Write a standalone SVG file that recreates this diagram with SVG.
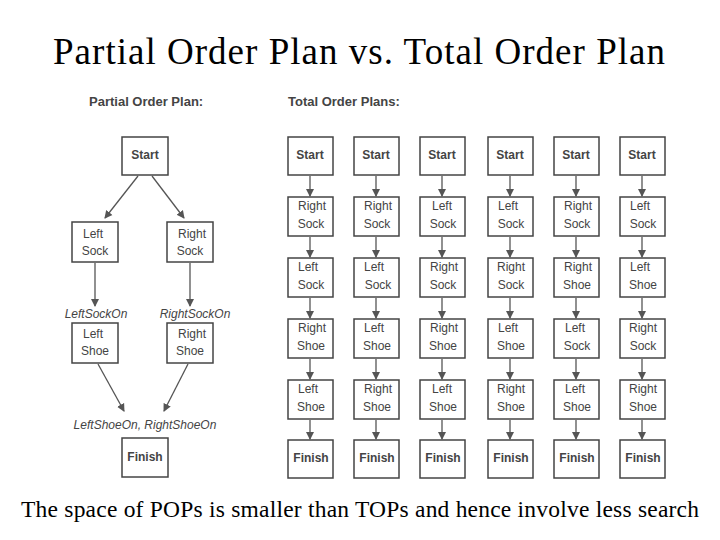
<svg xmlns="http://www.w3.org/2000/svg" width="720" height="540" viewBox="0 0 720 540">
<defs><marker id="a" markerWidth="8" markerHeight="10" refX="7" refY="5" orient="auto" markerUnits="userSpaceOnUse"><path d="M0,1 L8,5 L0,9 Z" fill="#555"/></marker></defs>
<style>
.b{fill:#fff;stroke:#444;stroke-width:1.5}
.t{font-family:"Liberation Sans",Arial,sans-serif;font-size:12px;fill:#444;text-anchor:middle}
.bt{font-weight:bold}
.i{font-style:italic}
.c line{stroke:#555;stroke-width:1.3;marker-end:url(#a)}
</style>
<rect width="720" height="540" fill="#fff"/>
<text x="359" y="64" textLength="612" lengthAdjust="spacing" style="font-family:'Liberation Serif','Times New Roman',serif;font-size:37px;text-anchor:middle;fill:#000">Partial Order Plan vs. Total Order Plan</text>
<text x="360" y="517" textLength="678" lengthAdjust="spacing" style="font-family:'Liberation Serif','Times New Roman',serif;font-size:23.5px;text-anchor:middle;fill:#000">The space of POPs is smaller than TOPs and hence involve less search</text>
<text x="89" y="106" class="t bt" style="text-anchor:start;font-size:13px">Partial Order Plan:</text>
<text x="288" y="106" class="t bt" style="text-anchor:start;font-size:13px">Total Order Plans:</text>
<g class="c">
<line x1="138" y1="176" x2="105" y2="218"/><line x1="152" y1="176" x2="184" y2="218"/>
<line x1="95" y1="263" x2="95" y2="306"/><line x1="190" y1="263" x2="190" y2="306"/>
<line x1="98" y1="364" x2="124" y2="411"/><line x1="188" y1="364" x2="164" y2="411"/>
</g>
<g id="p-start"><rect class="b" x="122" y="137" width="46" height="38"/><text class="t bt" x="145" y="159">Start</text></g>
<g id="p-lsock"><rect class="b" x="72" y="222" width="46" height="40"/><text class="t" x="93" y="238">Left</text><text class="t" x="95" y="255">Sock</text></g>
<g id="p-rsock"><rect class="b" x="167" y="222" width="46" height="40"/><text class="t" x="192" y="238">Right</text><text class="t" x="190" y="255">Sock</text></g>
<text class="t i" x="96" y="318">LeftSockOn</text><text class="t i" x="195" y="318">RightSockOn</text>
<g id="p-lshoe"><rect class="b" x="72" y="323" width="46" height="40"/><text class="t" x="93" y="338">Left</text><text class="t" x="95" y="355">Shoe</text></g>
<g id="p-rshoe"><rect class="b" x="167" y="323" width="46" height="40"/><text class="t" x="192" y="338">Right</text><text class="t" x="190" y="355">Shoe</text></g>
<text class="t i" x="145" y="429">LeftShoeOn, RightShoeOn</text>
<g id="p-finish"><rect class="b" x="122" y="438" width="46" height="39"/><text class="t bt" x="145" y="461">Finish</text></g>
<g id="total">
<g class="c">
<line x1="310" y1="176" x2="310" y2="196"/><line x1="310" y1="237" x2="310" y2="257"/><line x1="310" y1="298" x2="310" y2="318"/><line x1="310" y1="359" x2="310" y2="379"/><line x1="310" y1="420" x2="310" y2="439"/>
<line x1="376" y1="176" x2="376" y2="196"/><line x1="376" y1="237" x2="376" y2="257"/><line x1="376" y1="298" x2="376" y2="318"/><line x1="376" y1="359" x2="376" y2="379"/><line x1="376" y1="420" x2="376" y2="439"/>
<line x1="442" y1="176" x2="442" y2="196"/><line x1="442" y1="237" x2="442" y2="257"/><line x1="442" y1="298" x2="442" y2="318"/><line x1="442" y1="359" x2="442" y2="379"/><line x1="442" y1="420" x2="442" y2="439"/>
<line x1="510" y1="176" x2="510" y2="196"/><line x1="510" y1="237" x2="510" y2="257"/><line x1="510" y1="298" x2="510" y2="318"/><line x1="510" y1="359" x2="510" y2="379"/><line x1="510" y1="420" x2="510" y2="439"/>
<line x1="576" y1="176" x2="576" y2="196"/><line x1="576" y1="237" x2="576" y2="257"/><line x1="576" y1="298" x2="576" y2="318"/><line x1="576" y1="359" x2="576" y2="379"/><line x1="576" y1="420" x2="576" y2="439"/>
<line x1="642" y1="176" x2="642" y2="196"/><line x1="642" y1="237" x2="642" y2="257"/><line x1="642" y1="298" x2="642" y2="318"/><line x1="642" y1="359" x2="642" y2="379"/><line x1="642" y1="420" x2="642" y2="439"/>
</g>
<g id="c1"><rect class="b" x="288" y="137" width="45" height="38"/><text class="t bt" x="310" y="159">Start</text>
<rect class="b" x="288" y="197" width="45" height="39"/><text class="t" x="312" y="210">Right</text><text class="t" x="311" y="228">Sock</text>
<rect class="b" x="288" y="258" width="45" height="39"/><text class="t" x="308" y="271">Left</text><text class="t" x="311" y="289">Sock</text>
<rect class="b" x="288" y="319" width="45" height="39"/><text class="t" x="312" y="332">Right</text><text class="t" x="311" y="350">Shoe</text>
<rect class="b" x="288" y="380" width="45" height="39"/><text class="t" x="308" y="393">Left</text><text class="t" x="311" y="411">Shoe</text>
<rect class="b" x="288" y="440" width="45" height="38"/><text class="t bt" x="311" y="462">Finish</text></g>
<g id="c2"><rect class="b" x="354" y="137" width="45" height="38"/><text class="t bt" x="376" y="159">Start</text>
<rect class="b" x="354" y="197" width="45" height="39"/><text class="t" x="378" y="210">Right</text><text class="t" x="377" y="228">Sock</text>
<rect class="b" x="354" y="258" width="45" height="39"/><text class="t" x="374" y="271">Left</text><text class="t" x="378" y="289">Sock</text>
<rect class="b" x="354" y="319" width="45" height="39"/><text class="t" x="374" y="332">Left</text><text class="t" x="377" y="350">Shoe</text>
<rect class="b" x="354" y="380" width="45" height="39"/><text class="t" x="378" y="393">Right</text><text class="t" x="377" y="411">Shoe</text>
<rect class="b" x="354" y="440" width="45" height="38"/><text class="t bt" x="377" y="462">Finish</text></g>
<g id="c3"><rect class="b" x="420" y="137" width="45" height="38"/><text class="t bt" x="442" y="159">Start</text>
<rect class="b" x="420" y="197" width="45" height="39"/><text class="t" x="442" y="210">Left</text><text class="t" x="443" y="228">Sock</text>
<rect class="b" x="420" y="258" width="45" height="39"/><text class="t" x="444" y="271">Right</text><text class="t" x="443" y="289">Sock</text>
<rect class="b" x="420" y="319" width="45" height="39"/><text class="t" x="444" y="332">Right</text><text class="t" x="443" y="350">Shoe</text>
<rect class="b" x="420" y="380" width="45" height="39"/><text class="t" x="442" y="393">Left</text><text class="t" x="443" y="411">Shoe</text>
<rect class="b" x="420" y="440" width="45" height="38"/><text class="t bt" x="443" y="462">Finish</text></g>
<g id="c4"><rect class="b" x="488" y="137" width="45" height="38"/><text class="t bt" x="510" y="159">Start</text>
<rect class="b" x="488" y="197" width="45" height="39"/><text class="t" x="508" y="210">Left</text><text class="t" x="511" y="228">Sock</text>
<rect class="b" x="488" y="258" width="45" height="39"/><text class="t" x="511" y="271">Right</text><text class="t" x="511" y="289">Sock</text>
<rect class="b" x="488" y="319" width="45" height="39"/><text class="t" x="508" y="332">Left</text><text class="t" x="511" y="350">Shoe</text>
<rect class="b" x="488" y="380" width="45" height="39"/><text class="t" x="511" y="393">Right</text><text class="t" x="511" y="411">Shoe</text>
<rect class="b" x="488" y="440" width="45" height="38"/><text class="t bt" x="511" y="462">Finish</text></g>
<g id="c5"><rect class="b" x="554" y="137" width="45" height="38"/><text class="t bt" x="576" y="159">Start</text>
<rect class="b" x="554" y="197" width="45" height="39"/><text class="t" x="578" y="210">Right</text><text class="t" x="577" y="228">Sock</text>
<rect class="b" x="554" y="258" width="45" height="39"/><text class="t" x="578" y="271">Right</text><text class="t" x="577" y="289">Shoe</text>
<rect class="b" x="554" y="319" width="45" height="39"/><text class="t" x="575" y="332">Left</text><text class="t" x="577" y="350">Sock</text>
<rect class="b" x="554" y="380" width="45" height="39"/><text class="t" x="575" y="393">Left</text><text class="t" x="577" y="411">Shoe</text>
<rect class="b" x="554" y="440" width="45" height="38"/><text class="t bt" x="577" y="462">Finish</text></g>
<g id="c6"><rect class="b" x="620" y="137" width="45" height="38"/><text class="t bt" x="642" y="159">Start</text>
<rect class="b" x="620" y="197" width="45" height="39"/><text class="t" x="640" y="210">Left</text><text class="t" x="643" y="228">Sock</text>
<rect class="b" x="620" y="258" width="45" height="39"/><text class="t" x="640" y="271">Left</text><text class="t" x="643" y="289">Shoe</text>
<rect class="b" x="620" y="319" width="45" height="39"/><text class="t" x="643" y="332">Right</text><text class="t" x="643" y="350">Sock</text>
<rect class="b" x="620" y="380" width="45" height="39"/><text class="t" x="643" y="393">Right</text><text class="t" x="643" y="411">Shoe</text>
<rect class="b" x="620" y="440" width="45" height="38"/><text class="t bt" x="643" y="462">Finish</text></g>
</g>
</svg>
